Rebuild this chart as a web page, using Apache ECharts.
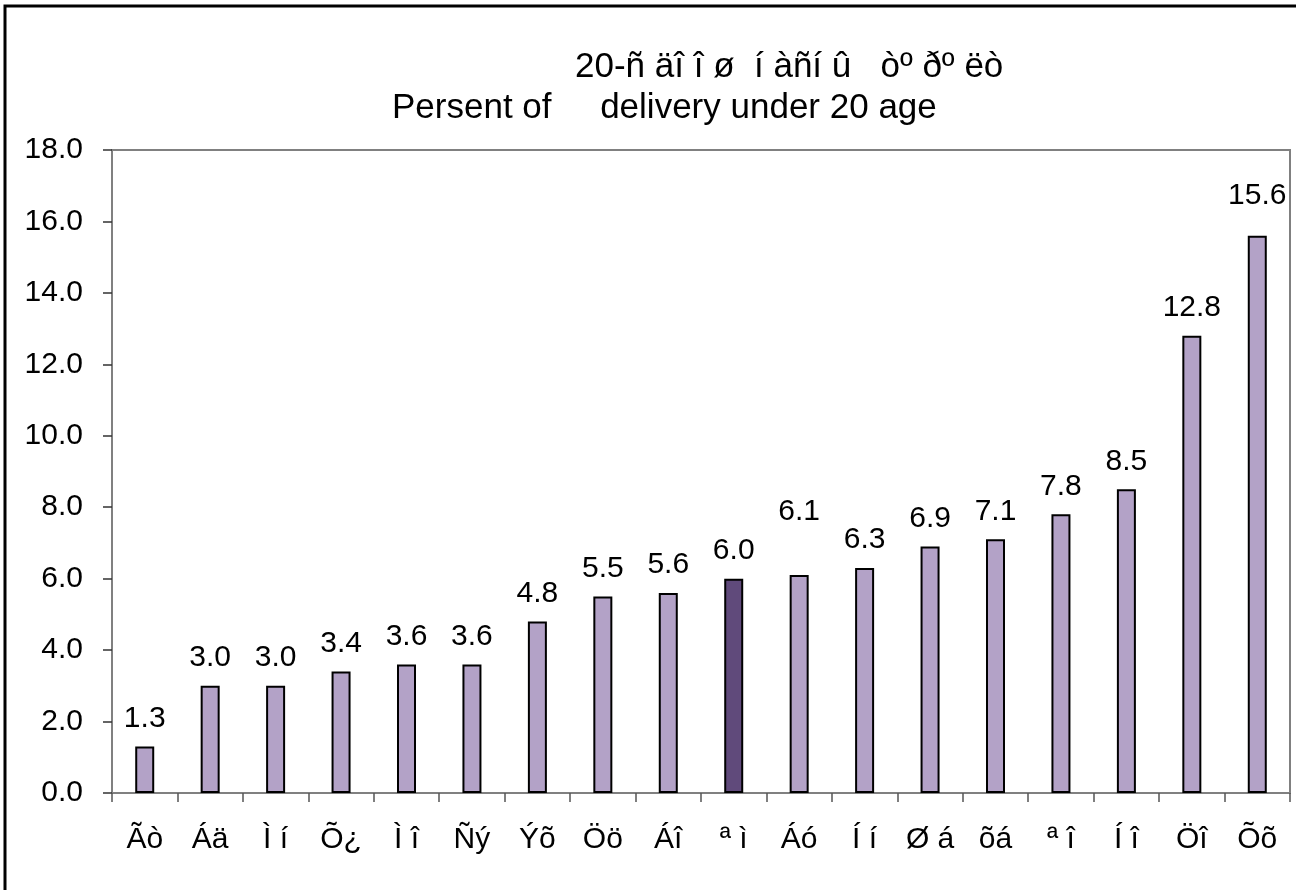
<!DOCTYPE html>
<html>
<head>
<meta charset="utf-8">
<script src="https://cdn.jsdelivr.net/npm/echarts@6/dist/echarts.min.js"></script>
<style>
html,body{margin:0;padding:0;background:#fff;}
#chart{width:1296px;height:890px;}
</style>
</head>
<body>
<div id="chart"></div>
<script>
var categories = ['Ãò','Áä','Ì í','Õ¿','Ì î','Ñý','Ýõ','Öö','Áî','ª ì','Áó','Í í','Ø á','õá','ª î','Í î','Öî','Õõ'];
var values = [1.3, 3.0, 3.0, 3.4, 3.6, 3.6, 4.8, 5.5, 5.6, 6.0, 6.1, 6.3, 6.9, 7.1, 7.8, 8.5, 12.8, 15.6];
var highlightCategory = 'ª ì';
var yTicks = [0, 2, 4, 6, 8, 10, 12, 14, 16, 18];
var titleLine1 = '20-ñ äî î ø  í àñí û   òº ðº ëò';
var titleLine2 = 'Persent of     delivery under 20 age';

var FONT = '"Liberation Sans", Arial, sans-serif';
var labelLift = {'Áó': 35, 'Õõ': 12};

var chart = echarts.init(document.getElementById('chart'));
chart.setOption({
  animation: false,
  backgroundColor: '#fff',
  textStyle: {fontFamily: FONT},
  graphic: [{
    type: 'rect', silent: true, z: -1,
    shape: {x: 5, y: 6, width: 1310, height: 900},
    style: {fill: 'none', stroke: '#000', lineWidth: 3}
  }],
  title: [
    {text: titleLine1, left: 570, top: 45, textStyle: {fontFamily: FONT, fontSize: 35, fontWeight: 'normal', color: '#000'}},
    {text: titleLine2, left: 387, top: 86, textStyle: {fontFamily: FONT, fontSize: 35, fontWeight: 'normal', color: '#000'}}
  ],
  grid: {left: 112, right: 6, top: 150, bottom: 97, show: true, borderColor: '#808080', borderWidth: 2, backgroundColor: 'transparent'},
  xAxis: {
    type: 'category',
    data: categories,
    axisLine: {lineStyle: {color: '#808080', width: 2}},
    axisTick: {show: true, length: 9, lineStyle: {color: '#555', width: 1.5}},
    axisLabel: {color: '#000', fontSize: 30, fontFamily: FONT, margin: 32, interval: 0}
  },
  yAxis: {
    type: 'value',
    min: yTicks[0], max: yTicks[yTicks.length - 1], interval: yTicks[1] - yTicks[0],
    axisLine: {show: true, lineStyle: {color: '#808080', width: 2}},
    axisTick: {show: true, length: 9, lineStyle: {color: '#333', width: 1.5}},
    splitLine: {show: false},
    axisLabel: {color: '#000', fontSize: 30, fontFamily: FONT, margin: 29, formatter: function (v) { return v.toFixed(1); }}
  },
  series: [{
    type: 'bar',
    barWidth: 19,
    data: values.map(function (v, i) {
      var c = categories[i];
      var item = {
        value: v,
        itemStyle: {color: c === highlightCategory ? '#604A7B' : '#B3A2C7', borderColor: '#000', borderWidth: 2}
      };
      if (labelLift[c]) item.label = {distance: 13 + labelLift[c]};
      return item;
    }),
    label: {
      show: true, position: 'top', distance: 13, color: '#000', fontSize: 30, fontFamily: FONT,
      formatter: function (p) { return p.value.toFixed(1); }
    }
  }]
});
</script>
</body>
</html>
